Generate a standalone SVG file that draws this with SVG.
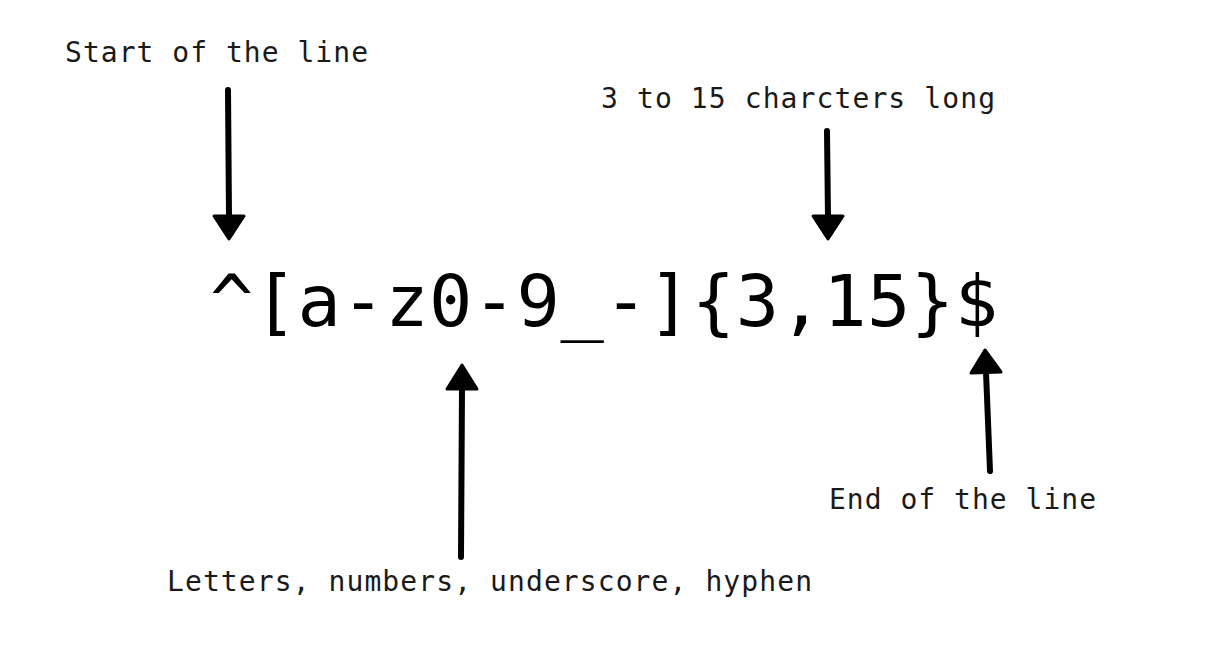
<svg xmlns="http://www.w3.org/2000/svg" width="1232" height="648" viewBox="0 0 1232 648">
<style>
.lbl{font-family:"DejaVu Sans Mono","Liberation Mono",monospace;font-size:28px;fill:#1a1a1a}
.rx{font-family:"DejaVu Sans Mono","Liberation Mono",monospace;font-size:72px;fill:#000}
.shaft{stroke:#000;stroke-width:6;stroke-linecap:round;fill:none}
.head{fill:#000;stroke:#000;stroke-width:3;stroke-linejoin:round}
</style>
<rect width="1232" height="648" fill="#fff"/>
<g id="regex"><text class="rx" x="210" y="326" textLength="788" lengthAdjust="spacing">^[a-z0-9_-]{3,15}$</text></g>
<g id="start"><text class="lbl" x="65" y="62" textLength="303" lengthAdjust="spacing">Start of the line</text></g>
<g id="length"><text class="lbl" x="601" y="108" textLength="394" lengthAdjust="spacing">3 to 15 charcters long</text></g>
<g id="chars"><text class="lbl" x="167" y="591" textLength="645" lengthAdjust="spacing">Letters, numbers, underscore, hyphen</text></g>
<g id="end"><text class="lbl" x="829" y="509" textLength="267" lengthAdjust="spacing">End of the line</text></g>
<g id="connectors">
<line class="shaft" x1="228" y1="90" x2="229" y2="218"/>
<polygon class="head" points="214,216 244,216 229,239"/>
<line class="shaft" x1="827" y1="131" x2="828" y2="218"/>
<polygon class="head" points="813,216 843,216 828,239"/>
<line class="shaft" x1="461" y1="557" x2="462" y2="388"/>
<polygon class="head" points="447,389 477,389 462,365"/>
<line class="shaft" x1="990" y1="471" x2="986" y2="372"/>
<polygon class="head" points="971,373 1001,372 985,350"/>
</g>
</svg>
